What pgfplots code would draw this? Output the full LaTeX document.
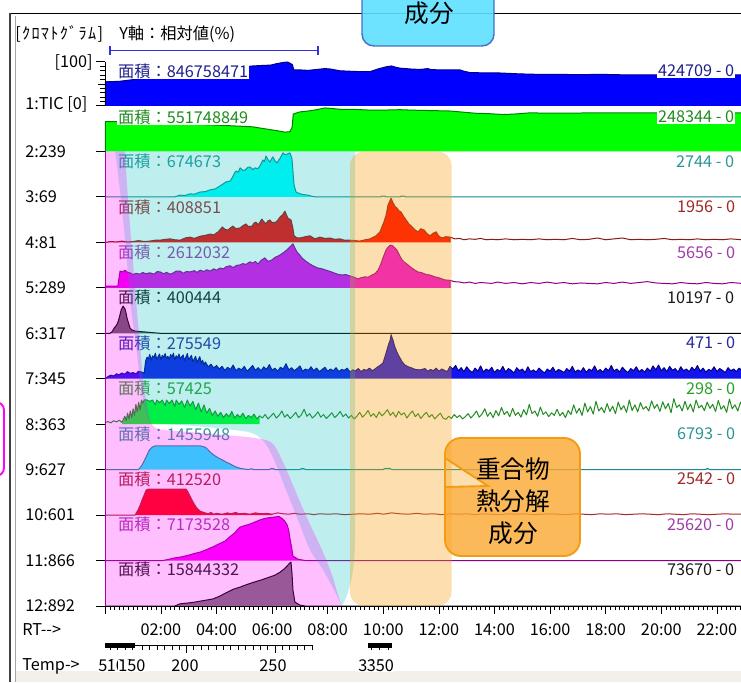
\documentclass[border=0pt]{standalone}
\usepackage{fontspec}
\setmainfont{Noto Sans CJK JP}
\usepackage{pgfplots}
\pgfplotsset{compat=1.18}
\definecolor{cTeal}{HTML}{1E8C8C}
\definecolor{cDRed}{HTML}{8B1A1A}
\definecolor{cBrRed}{HTML}{A52A2A}
\definecolor{cPurp}{HTML}{8B008B}
\definecolor{cNavy}{HTML}{00008B}
\definecolor{cDGreen}{HTML}{008000}
\definecolor{cGreenL}{HTML}{228B22}
\definecolor{cBlue}{HTML}{1414EC}
\definecolor{cLime}{HTML}{00FF20}
\definecolor{cMag5}{HTML}{F000F0}
\definecolor{cCyan}{RGB}{0,255,255}
\definecolor{cMag}{RGB}{255,0,255}
\definecolor{cRed}{RGB}{255,0,0}
\definecolor{cGreen}{RGB}{0,255,0}
\definecolor{cBlue1}{RGB}{0,0,255}
\definecolor{ovC}{RGB}{0,188,188}
\definecolor{ovP}{RGB}{255,0,255}
\definecolor{ovO}{RGB}{249,157,12}
\definecolor{callO}{HTML}{FBA830}
\definecolor{callB}{HTML}{F39C12}
\definecolor{boxB}{HTML}{5FE0FF}
\definecolor{boxE}{HTML}{4472C4}
\definecolor{band}{HTML}{F2F0E9}
\definecolor{lBlue}{HTML}{20208C}
\definecolor{lGreen}{HTML}{1E8C1E}
\definecolor{lTeal}{HTML}{2A9696}
\definecolor{lRed}{HTML}{A02828}
\definecolor{lPurp}{HTML}{A03CAA}
\definecolor{lBlk}{HTML}{1A1A1A}
\definecolor{lNavy}{HTML}{2828A0}
\definecolor{lGrn8}{HTML}{28A028}
\newcommand\lf{\fontsize{12.2pt}{14pt}\selectfont}
\newcommand\cf{\fontsize{18.5pt}{20pt}\selectfont}
\pgfplotsset{tr/.style={no marks,line width=0.75pt,line join=round}}
\tikzset{al/.style={font=\lf,anchor=west,inner sep=0.6pt}}
\begin{document}
\begin{tikzpicture}
\path[use as bounding box] (0,0) rectangle (555.75pt,511.5pt);
\clip (0,0) rectangle (555.75pt,511.5pt);
\fill[white] (0,0) rectangle (555.75pt,511.5pt);
\begin{scope}[x=0.75pt,y=-0.75pt,yshift=511.5pt]
\fill[band] (16,671) rectangle (741,682);
\draw[black,line width=1.1pt] (10,13.5) -- (741,13.5);
\draw[black!75,line width=1.1pt] (10,13) -- (10,682);
\draw[black!35,line width=1.1pt] (15.5,16) -- (15.5,682);
\end{scope}

\begin{axis}[at={(0,0)},anchor=south west,width=555.75pt,height=511.5pt,scale only axis,
 xmin=-3.788,xmax=22.867,ymin=0,ymax=682,hide axis]
% 1 TIC
\addplot[tr,fill=cBlue1,draw=cNavy] table[row sep=\\,x=t,y expr=\thisrow{v}*0.44+576]{
t v\\ 0 0\\ 0 55\\ 0.5 56\\ 1.0 60\\ 2.0 72\\ 3.0 80\\ 4.0 85\\ 5.0 89\\ 5.31 91\\ 5.6 92\\ 5.95 93\\ 6.15 96\\ 6.4 99\\ 6.55 100\\ 6.65 97\\ 6.73 94\\ 6.78 82\\ 7.0 82\\ 7.3 81\\ 7.6 83\\ 7.9 85\\ 8.1 84\\ 8.44 80\\ 8.8 79\\ 9.2 78\\ 9.52 78\\ 9.8 84\\ 10.1 89\\ 10.3 91\\ 10.45 88\\ 10.6 86\\ 11.0 84\\ 11.32 83\\ 11.6 85\\ 11.7 83\\ 12.0 82\\ 12.76 82\\ 12.9 79\\ 13.12 76\\ 13.8 75\\ 14.2 75\\ 14.9 73\\ 15.5 72\\ 16.4 72\\ 17.0 71\\ 17.8 72\\ 18.5 71\\ 19.6 71\\ 20.5 71\\ 21.5 71\\ 22.9 71\\ 22.9 0\\};
% 2
\addplot[tr,fill=cGreen,draw=cDGreen] table[row sep=\\,x=t,y expr=\thisrow{v}*0.44+530.5]{
t v\\ 0 0\\ 0 68\\ 0.4 68\\ 1.0 67\\ 2.0 65\\ 3.0 62\\ 4.0 60\\ 5.0 57\\ 5.31 56\\ 5.6 53\\ 5.9 50\\ 6.2 47\\ 6.46 44\\ 6.64 45\\ 6.72 55\\ 6.76 85\\ 7.0 90\\ 7.3 92\\ 7.6 95\\ 7.9 99\\ 8.1 98\\ 8.44 96\\ 8.8 96\\ 9.2 95\\ 9.52 94\\ 10.0 94\\ 10.6 95\\ 11.0 94\\ 11.7 93\\ 12.4 92\\ 12.76 90\\ 13.3 87\\ 13.8 86\\ 14.3 84\\ 14.7 85\\ 15.3 88\\ 15.8 87\\ 16.5 87\\ 17.8 88\\ 19.6 88\\ 20.5 88\\ 21.5 88\\ 22.9 88\\ 22.9 0\\};
% 3
\addplot[tr,fill=cCyan,draw=cTeal] table[row sep=\\,x=t,y expr=\thisrow{v}*0.44+485.1]{
t v\\ 0 0\\ 2.5 0\\ 2.69 4\\ 2.85 3\\ 3.05 7\\ 3.2 6\\ 3.41 11\\ 3.6 12\\ 3.77 16\\ 3.95 18\\ 4.13 25\\ 4.25 30\\ 4.34 34\\ 4.49 36\\ 4.58 45\\ 4.63 52\\ 4.70 59\\ 4.78 56\\ 4.85 66\\ 4.95 60\\ 5.03 61\\ 5.12 67\\ 5.21 68\\ 5.30 62\\ 5.39 66\\ 5.48 64\\ 5.56 70\\ 5.62 78\\ 5.67 84\\ 5.72 80\\ 5.78 93\\ 5.85 85\\ 5.92 79\\ 5.98 86\\ 6.03 91\\ 6.10 82\\ 6.18 77\\ 6.24 84\\ 6.29 88\\ 6.35 95\\ 6.39 100\\ 6.46 96\\ 6.54 97\\ 6.60 99\\ 6.64 100\\ 6.70 90\\ 6.72 84\\ 6.76 50\\ 6.79 27\\ 6.86 11\\ 7.00 7\\ 7.15 5\\ 7.29 4\\ 7.45 1\\ 7.6 0\\ 9.9 0\\ 9.95 2\\ 10.05 2\\ 10.1 0\\ 10.6 0\\ 10.65 2\\ 10.75 2\\ 10.8 0\\ 22.9 0\\};
% 4 integrated part
\addplot[tr,fill=cRed,draw=cDRed] table[row sep=\\,x=t,y expr=\thisrow{v}*0.44+439.6]{
t v\\ 0 0\\ 0.2 2\\ 0.4 1\\ 0.6 3\\ 0.8 1\\ 1.0 2\\ 1.2 4\\ 1.4 2\\ 1.6 3\\ 1.8 5\\ 1.97 5\\ 2.15 7\\ 2.33 8\\ 2.5 6\\ 2.69 5\\ 2.87 10\\ 3.05 12\\ 3.2 9\\ 3.41 14\\ 3.6 16\\ 3.77 19\\ 3.9 17\\ 4.06 24\\ 4.21 35\\ 4.3 30\\ 4.41 28\\ 4.5 33\\ 4.59 37\\ 4.7 31\\ 4.85 33\\ 4.95 38\\ 5.06 42\\ 5.15 36\\ 5.28 37\\ 5.35 44\\ 5.42 46\\ 5.5 40\\ 5.63 53\\ 5.7 47\\ 5.78 42\\ 5.85 49\\ 5.92 51\\ 6.0 45\\ 6.14 46\\ 6.22 52\\ 6.29 58\\ 6.38 63\\ 6.46 71\\ 6.52 62\\ 6.57 55\\ 6.68 51\\ 6.74 35\\ 6.79 15\\ 6.9 10\\ 7.0 10\\ 7.2 13\\ 7.36 15\\ 7.54 8\\ 7.72 12\\ 7.9 9\\ 8.08 10\\ 8.25 7\\ 8.44 8\\ 8.6 5\\ 8.8 5\\ 9.0 4\\ 9.16 3\\ 9.35 6\\ 9.52 8\\ 9.74 15\\ 9.88 24\\ 10.02 46\\ 10.1 62\\ 10.17 85\\ 10.24 95\\ 10.28 100\\ 10.35 90\\ 10.42 82\\ 10.49 78\\ 10.56 72\\ 10.64 69\\ 10.72 60\\ 10.82 51\\ 10.92 42\\ 11.04 35\\ 11.15 28\\ 11.25 24\\ 11.35 31\\ 11.47 28\\ 11.57 20\\ 11.68 15\\ 11.8 21\\ 11.90 24\\ 12.0 14\\ 12.11 10\\ 12.25 13\\ 12.40 12\\ 12.40 0\\};
% 4 rest
\addplot[tr,draw=cDRed] table[row sep=\\,x=t,y expr=\thisrow{v}*0.44+439.6]{
t v\\ 12.40 12\\ 12.58 8\\ 12.75 9\\ 12.9 6\\ 13.1 8\\ 13.3 7\\ 13.5 9\\ 13.7 6\\ 13.9 7\\ 14.1 6\\ 14.4 8\\ 14.7 6\\ 15.0 7\\ 15.3 6\\ 15.6 8\\ 15.9 6\\ 16.2 7\\ 16.5 6\\ 16.8 9\\ 17.1 6\\ 17.4 7\\ 17.7 10\\ 18.0 6\\ 18.3 8\\ 18.6 10\\ 18.9 6\\ 19.2 7\\ 19.5 6\\ 19.8 7\\ 20.1 9\\ 20.4 6\\ 20.7 7\\ 21.0 6\\ 21.3 8\\ 21.6 6\\ 21.9 7\\ 22.2 6\\ 22.5 8\\ 22.9 6\\};
% 5 integrated part
\addplot[tr,fill=cMag5,draw=cPurp] table[row sep=\\,x=t,y expr=\thisrow{v}*0.44+394.2]{
t v\\ 0 0\\ 0 4\\ 0.45 4\\ 0.53 38\\ 0.62 36\\ 0.71 40\\ 0.8 35\\ 0.89 34\\ 1.0 30\\ 1.1 33\\ 1.25 31\\ 1.35 35\\ 1.45 32\\ 1.61 34\\ 1.75 31\\ 1.87 37\\ 1.97 36\\ 2.1 32\\ 2.2 35\\ 2.33 31\\ 2.45 34\\ 2.55 38\\ 2.69 38\\ 2.8 33\\ 2.92 37\\ 3.05 36\\ 3.2 39\\ 3.3 35\\ 3.41 40\\ 3.55 37\\ 3.65 41\\ 3.77 38\\ 3.9 43\\ 4.0 40\\ 4.13 45\\ 4.25 43\\ 4.35 48\\ 4.49 50\\ 4.6 46\\ 4.72 51\\ 4.85 52\\ 4.95 55\\ 5.05 53\\ 5.21 59\\ 5.3 56\\ 5.4 60\\ 5.49 54\\ 5.6 62\\ 5.74 68\\ 5.85 60\\ 5.99 63\\ 6.1 69\\ 6.21 72\\ 6.32 76\\ 6.43 81\\ 6.55 87\\ 6.64 93\\ 6.72 98\\ 6.75 100\\ 6.82 90\\ 6.90 81\\ 7.0 74\\ 7.07 68\\ 7.2 61\\ 7.36 54\\ 7.5 49\\ 7.65 45\\ 7.8 43\\ 7.94 40\\ 8.1 37\\ 8.22 34\\ 8.35 31\\ 8.51 29\\ 8.65 30\\ 8.80 27\\ 8.95 24\\ 9.09 20\\ 9.2 23\\ 9.34 25\\ 9.45 24\\ 9.59 29\\ 9.7 32\\ 9.81 40\\ 9.9 52\\ 9.96 63\\ 10.03 75\\ 10.10 86\\ 10.18 93\\ 10.25 97\\ 10.30 96\\ 10.35 95\\ 10.42 90\\ 10.49 86\\ 10.58 74\\ 10.68 63\\ 10.78 57\\ 10.89 52\\ 11.0 46\\ 11.14 40\\ 11.25 36\\ 11.40 34\\ 11.5 31\\ 11.68 29\\ 11.85 25\\ 12.04 22\\ 12.2 18\\ 12.40 17\\ 12.40 0\\};
% 5 rest
\addplot[tr,draw=cPurp] table[row sep=\\,x=t,y expr=\thisrow{v}*0.44+394.2]{
t v\\ 12.40 17\\ 12.55 14\\ 12.76 13\\ 12.9 11\\ 13.1 13\\ 13.3 10\\ 13.5 12\\ 13.7 11\\ 13.9 10\\ 14.1 13\\ 14.4 10\\ 14.7 12\\ 15.0 9\\ 15.3 12\\ 15.6 10\\ 15.9 13\\ 16.2 10\\ 16.5 12\\ 16.8 9\\ 17.1 11\\ 17.4 10\\ 17.7 9\\ 18.0 12\\ 18.3 10\\ 18.6 13\\ 18.9 10\\ 19.2 12\\ 19.5 14\\ 19.8 11\\ 20.1 10\\ 20.4 9\\ 20.7 12\\ 21.0 10\\ 21.3 9\\ 21.6 12\\ 21.9 10\\ 22.2 9\\ 22.5 12\\ 22.9 10\\};
% 6
\addplot[tr,fill=black!62,draw=black] table[row sep=\\,x=t,y expr=\thisrow{v}*0.44+348.7]{
t v\\ 0 0\\ 0.17 0\\ 0.25 4\\ 0.32 12\\ 0.40 18\\ 0.46 26\\ 0.52 40\\ 0.57 53\\ 0.64 62\\ 0.71 55\\ 0.75 45\\ 0.78 35\\ 0.84 22\\ 0.89 12\\ 0.95 8\\ 1.07 5\\ 1.25 4\\ 1.43 3\\ 1.6 2\\ 1.97 0\\ 22.9 0\\};
% 7
\addplot[tr,fill=cBlue,draw=cNavy] table[row sep=\\,x=t,y expr=\thisrow{v}*0.44+303.3]{
t v\\ 0 0\\ 0.1 5\\ 0.2 8\\ 0.3 6\\ 0.4 11\\ 0.5 9\\ 0.6 13\\ 0.7 10\\ 0.8 16\\ 0.9 12\\ 1.0 14\\ 1.1 11\\ 1.2 17\\ 1.3 15\\ 1.4 13\\ 1.45 40\\ 1.5 49\\ 1.55 45\\ 1.6 55\\ 1.65 42\\ 1.7 52\\ 1.75 47\\ 1.8 58\\ 1.85 44\\ 1.9 50\\ 1.95 56\\ 2.0 43\\ 2.05 53\\ 2.1 48\\ 2.15 57\\ 2.2 46\\ 2.25 51\\ 2.3 44\\ 2.35 55\\ 2.4 49\\ 2.45 58\\ 2.5 42\\ 2.55 52\\ 2.6 47\\ 2.65 56\\ 2.7 45\\ 2.75 50\\ 2.8 54\\ 2.85 41\\ 2.9 49\\ 2.95 57\\ 3.0 43\\ 3.05 48\\ 3.1 53\\ 3.15 38\\ 3.2 45\\ 3.25 51\\ 3.3 36\\ 3.35 44\\ 3.4 50\\ 3.45 35\\ 3.5 42\\ 3.55 31\\ 3.6 38\\ 3.7 27\\ 3.8 33\\ 3.9 24\\ 4.0 30\\ 4.1 22\\ 4.2 28\\ 4.3 19\\ 4.4 26\\ 4.5 21\\ 4.6 31\\ 4.7 18\\ 4.8 24\\ 4.9 20\\ 5.0 28\\ 5.1 17\\ 5.2 23\\ 5.3 30\\ 5.4 19\\ 5.5 25\\ 5.6 18\\ 5.7 27\\ 5.8 21\\ 5.9 32\\ 6.0 19\\ 6.1 24\\ 6.2 17\\ 6.3 26\\ 6.4 22\\ 6.5 34\\ 6.6 20\\ 6.7 25\\ 6.8 18\\ 6.9 23\\ 7.0 29\\ 7.1 17\\ 7.2 22\\ 7.3 19\\ 7.4 27\\ 7.5 18\\ 7.6 24\\ 7.7 16\\ 7.8 21\\ 7.9 26\\ 8.0 17\\ 8.1 22\\ 8.2 18\\ 8.3 25\\ 8.4 16\\ 8.5 21\\ 8.6 19\\ 8.7 24\\ 8.8 15\\ 8.9 20\\ 9.0 18\\ 9.1 23\\ 9.2 16\\ 9.3 21\\ 9.4 19\\ 9.5 24\\ 9.6 18\\ 9.7 22\\ 9.8 27\\ 9.9 31\\ 9.99 36\\ 10.06 50\\ 10.13 65\\ 10.2 80\\ 10.25 88\\ 10.28 100\\ 10.32 92\\ 10.35 88\\ 10.4 75\\ 10.46 65\\ 10.53 55\\ 10.6 47\\ 10.68 38\\ 10.78 31\\ 10.9 27\\ 11.04 24\\ 11.15 21\\ 11.32 20\\ 11.5 23\\ 11.6 17\\ 11.7 21\\ 11.8 18\\ 11.9 24\\ 12.0 17\\ 12.1 22\\ 12.2 19\\ 12.3 16\\ 12.4 28\\ 12.5 22\\ 12.6 30\\ 12.7 18\\ 12.8 25\\ 12.9 16\\ 13.0 27\\ 13.1 19\\ 13.2 14\\ 13.3 24\\ 13.4 17\\ 13.5 29\\ 13.6 15\\ 13.7 22\\ 13.8 18\\ 13.9 26\\ 14.0 14\\ 14.1 21\\ 14.2 17\\ 14.3 28\\ 14.4 15\\ 14.5 23\\ 14.6 19\\ 14.7 13\\ 14.8 25\\ 14.9 18\\ 15.0 22\\ 15.1 14\\ 15.2 27\\ 15.3 16\\ 15.4 20\\ 15.5 15\\ 15.6 24\\ 15.7 18\\ 15.8 13\\ 15.9 22\\ 16.0 17\\ 16.1 26\\ 16.2 15\\ 16.3 21\\ 16.4 18\\ 16.5 14\\ 16.6 23\\ 16.7 17\\ 16.8 28\\ 16.9 15\\ 17.0 20\\ 17.1 16\\ 17.2 25\\ 17.3 14\\ 17.4 22\\ 17.5 18\\ 17.6 29\\ 17.7 16\\ 17.8 21\\ 17.9 15\\ 18.0 24\\ 18.1 18\\ 18.2 30\\ 18.3 17\\ 18.4 22\\ 18.5 15\\ 18.6 26\\ 18.7 19\\ 18.8 14\\ 18.9 23\\ 19.0 18\\ 19.1 27\\ 19.2 16\\ 19.3 21\\ 19.4 15\\ 19.5 24\\ 19.6 17\\ 19.7 29\\ 19.8 20\\ 19.9 31\\ 20.0 18\\ 20.1 25\\ 20.2 16\\ 20.3 28\\ 20.4 19\\ 20.5 23\\ 20.6 15\\ 20.7 27\\ 20.8 18\\ 20.9 22\\ 21.0 16\\ 21.1 26\\ 21.2 19\\ 21.3 30\\ 21.4 17\\ 21.5 24\\ 21.6 15\\ 21.7 21\\ 21.8 18\\ 21.9 27\\ 22.0 16\\ 22.1 23\\ 22.2 19\\ 22.3 14\\ 22.4 25\\ 22.5 18\\ 22.6 22\\ 22.7 16\\ 22.8 24\\ 22.9 19\\ 22.9 0\\};
% 8 fill part
\addplot[tr,fill=cLime,draw=none] table[row sep=\\,x=t,y expr=\thisrow{v}*0.44+257.8]{
t v\\ 0.6 0\\ 0.7 18\\ 0.75 8\\ 0.8 25\\ 0.85 12\\ 0.9 30\\ 0.95 15\\ 1.0 35\\ 1.05 20\\ 1.1 45\\ 1.15 28\\ 1.2 50\\ 1.25 32\\ 1.3 55\\ 1.35 48\\ 1.4 55\\ 1.5 55\\ 1.6 52\\ 1.7 55\\ 1.8 44\\ 1.85 55\\ 1.95 49\\ 2.05 55\\ 2.15 42\\ 2.2 55\\ 2.3 47\\ 2.4 55\\ 2.5 40\\ 2.55 55\\ 2.65 45\\ 2.75 53\\ 2.85 38\\ 2.95 55\\ 3.05 41\\ 3.15 52\\ 3.25 33\\ 3.35 48\\ 3.45 28\\ 3.55 44\\ 3.65 25\\ 3.75 36\\ 3.85 20\\ 3.95 30\\ 4.05 18\\ 4.15 27\\ 4.25 15\\ 4.35 24\\ 4.45 17\\ 4.55 29\\ 4.65 14\\ 4.75 22\\ 4.85 16\\ 4.95 25\\ 5.05 13\\ 5.15 20\\ 5.25 15\\ 5.35 23\\ 5.45 12\\ 5.55 19\\ 5.55 0\\};
% 8 line
\addplot[tr,draw=cGreenL] table[row sep=\\,x=t,y expr=\thisrow{v}*0.44+257.8]{
t v\\ 0 4\\ 0.1 6\\ 0.2 3\\ 0.3 8\\ 0.4 5\\ 0.5 9\\ 0.6 4\\ 0.7 18\\ 0.75 8\\ 0.8 25\\ 0.85 12\\ 0.9 30\\ 0.95 15\\ 1.0 35\\ 1.05 20\\ 1.1 45\\ 1.15 28\\ 1.2 50\\ 1.25 32\\ 1.3 55\\ 1.35 48\\ 1.4 55\\ 1.5 55\\ 1.6 52\\ 1.7 55\\ 1.8 44\\ 1.85 55\\ 1.95 49\\ 2.05 55\\ 2.15 42\\ 2.2 55\\ 2.3 47\\ 2.4 55\\ 2.5 40\\ 2.55 55\\ 2.65 45\\ 2.75 53\\ 2.85 38\\ 2.95 55\\ 3.05 41\\ 3.15 52\\ 3.25 33\\ 3.35 48\\ 3.45 28\\ 3.55 44\\ 3.65 25\\ 3.75 36\\ 3.85 20\\ 3.95 30\\ 4.05 18\\ 4.15 27\\ 4.25 15\\ 4.35 24\\ 4.45 17\\ 4.55 29\\ 4.65 14\\ 4.75 22\\ 4.85 16\\ 4.95 25\\ 5.05 13\\ 5.15 20\\ 5.25 15\\ 5.35 23\\ 5.45 12\\ 5.55 19\\ 5.65 14\\ 5.75 22\\ 5.85 12\\ 5.95 18\\ 6.05 25\\ 6.15 14\\ 6.25 20\\ 6.35 30\\ 6.45 16\\ 6.55 22\\ 6.65 13\\ 6.75 19\\ 6.85 27\\ 6.95 15\\ 7.05 21\\ 7.15 34\\ 7.25 18\\ 7.35 24\\ 7.45 14\\ 7.55 20\\ 7.65 28\\ 7.75 16\\ 7.85 22\\ 7.95 13\\ 8.05 19\\ 8.15 26\\ 8.25 15\\ 8.35 21\\ 8.45 29\\ 8.55 17\\ 8.65 23\\ 8.75 14\\ 8.85 20\\ 8.95 12\\ 9.05 18\\ 9.15 27\\ 9.25 16\\ 9.35 22\\ 9.45 31\\ 9.55 18\\ 9.65 24\\ 9.75 15\\ 9.85 28\\ 9.95 19\\ 10.05 25\\ 10.15 33\\ 10.25 20\\ 10.35 27\\ 10.45 16\\ 10.55 29\\ 10.65 21\\ 10.75 26\\ 10.85 14\\ 10.95 23\\ 11.05 30\\ 11.15 17\\ 11.25 24\\ 11.35 13\\ 11.45 21\\ 11.55 27\\ 11.65 16\\ 11.75 22\\ 11.85 12\\ 11.95 19\\ 12.05 25\\ 12.15 14\\ 12.25 11\\ 12.35 18\\ 12.45 13\\ 12.55 22\\ 12.65 15\\ 12.75 20\\ 12.85 12\\ 12.95 17\\ 13.05 24\\ 13.15 14\\ 13.25 21\\ 13.35 30\\ 13.45 16\\ 13.55 23\\ 13.65 35\\ 13.75 18\\ 13.85 27\\ 13.95 15\\ 14.05 31\\ 14.15 19\\ 14.25 38\\ 14.35 22\\ 14.45 29\\ 14.55 17\\ 14.65 36\\ 14.75 20\\ 14.85 27\\ 14.95 16\\ 15.05 33\\ 15.15 21\\ 15.25 45\\ 15.35 24\\ 15.45 30\\ 15.55 18\\ 15.65 39\\ 15.75 22\\ 15.85 28\\ 15.95 17\\ 16.05 26\\ 16.15 20\\ 16.25 34\\ 16.35 19\\ 16.45 27\\ 16.55 15\\ 16.65 31\\ 16.75 22\\ 16.85 44\\ 16.95 25\\ 17.05 36\\ 17.15 20\\ 17.25 48\\ 17.35 28\\ 17.45 40\\ 17.55 23\\ 17.65 52\\ 17.75 30\\ 17.85 38\\ 17.95 26\\ 18.05 47\\ 18.15 29\\ 18.25 41\\ 18.35 24\\ 18.45 50\\ 18.55 33\\ 18.65 42\\ 18.75 27\\ 18.85 55\\ 18.95 31\\ 19.05 44\\ 19.15 28\\ 19.25 49\\ 19.35 34\\ 19.45 40\\ 19.55 30\\ 19.65 53\\ 19.75 36\\ 19.85 45\\ 19.95 29\\ 20.05 51\\ 20.15 35\\ 20.25 47\\ 20.35 26\\ 20.45 58\\ 20.55 38\\ 20.65 44\\ 20.75 30\\ 20.85 52\\ 20.95 33\\ 21.05 46\\ 21.15 28\\ 21.25 55\\ 21.35 37\\ 21.45 43\\ 21.55 31\\ 21.65 50\\ 21.75 36\\ 21.85 45\\ 21.95 29\\ 22.05 54\\ 22.15 34\\ 22.25 42\\ 22.35 27\\ 22.45 57\\ 22.55 35\\ 22.65 44\\ 22.75 30\\ 22.85 50\\ 22.95 36\\};
% 9
\addplot[tr,fill=cCyan,draw=cTeal] table[row sep=\\,x=t,y expr=\thisrow{v}*0.44+212.4]{
t v\\ 0 0\\ 1.18 0\\ 1.25 4\\ 1.32 10\\ 1.40 20\\ 1.50 33\\ 1.58 44\\ 1.68 51\\ 1.8 54\\ 1.97 54\\ 2.5 54\\ 3.1 54\\ 3.41 54\\ 3.59 51\\ 3.68 46\\ 3.77 40\\ 3.86 35\\ 3.95 31\\ 4.08 26\\ 4.21 22\\ 4.35 17\\ 4.49 13\\ 4.6 9\\ 4.70 6\\ 4.85 3\\ 5.03 1\\ 5.15 0\\ 5.25 2\\ 5.35 0\\ 5.9 0\\ 5.95 2\\ 6.05 2\\ 6.1 0\\ 7.0 0\\ 7.05 2\\ 7.15 2\\ 7.2 0\\ 10.0 0\\ 10.05 3\\ 10.25 3\\ 10.3 0\\ 21.6 0\\ 21.65 3\\ 21.75 0\\ 22.9 0\\};
% 10 integrated part
\addplot[tr,fill=cRed,draw=cBrRed] table[row sep=\\,x=t,y expr=\thisrow{v}*0.44+166.9]{
t v\\ 0 0\\ 1.07 0\\ 1.18 12\\ 1.25 22\\ 1.32 34\\ 1.40 46\\ 1.47 57\\ 1.54 59\\ 1.8 59\\ 2.2 59\\ 2.6 59\\ 2.91 59\\ 2.98 52\\ 3.05 43\\ 3.12 34\\ 3.2 25\\ 3.27 18\\ 3.34 13\\ 3.41 9\\ 3.59 5\\ 3.7 3\\ 3.8 6\\ 3.9 2\\ 4.0 4\\ 4.2 2\\ 4.4 5\\ 4.5 3\\ 4.7 6\\ 4.8 3\\ 5.0 4\\ 5.2 2\\ 5.4 5\\ 5.6 3\\ 5.8 4\\ 6.0 2\\ 6.0 0\\};
% 10 rest
\addplot[tr,draw=cBrRed] table[row sep=\\,x=t,y expr=\thisrow{v}*0.44+166.9]{
t v\\ 6.0 2\\ 6.2 5\\ 6.4 3\\ 6.6 2\\ 6.8 4\\ 7.0 2\\ 7.3 3\\ 7.5 1\\ 7.7 3\\ 8.0 2\\ 8.3 3\\ 8.6 1\\ 8.9 2\\ 9.2 3\\ 9.5 2\\ 9.8 4\\ 10.0 2\\ 10.3 5\\ 10.6 3\\ 10.9 2\\ 11.2 4\\ 11.5 2\\ 11.8 3\\ 12.1 1\\ 12.4 3\\ 12.7 2\\ 13.0 3\\ 13.3 1\\ 13.6 3\\ 13.9 2\\ 14.2 1\\ 14.5 3\\ 14.8 2\\ 15.1 3\\ 15.4 1\\ 15.7 2\\ 16.0 3\\ 16.3 2\\ 16.6 1\\ 16.9 3\\ 17.2 2\\ 17.5 1\\ 17.8 3\\ 18.1 2\\ 18.4 3\\ 18.7 1\\ 19.0 2\\ 19.3 3\\ 19.6 2\\ 19.9 1\\ 20.2 3\\ 20.5 2\\ 20.8 1\\ 21.1 3\\ 21.4 2\\ 21.7 1\\ 22.0 2\\ 22.3 3\\ 22.6 2\\ 22.9 2\\};
% 11
\addplot[tr,fill=cMag,draw=cPurp] table[row sep=\\,x=t,y expr=\thisrow{v}*0.44+121.5]{
t v\\ 0 0\\ 2.08 0\\ 2.3 3\\ 2.51 6\\ 2.8 9\\ 3.05 13\\ 3.2 16\\ 3.41 19\\ 3.65 25\\ 3.87 31\\ 4.1 38\\ 4.30 44\\ 4.5 55\\ 4.66 63\\ 4.75 70\\ 4.85 76\\ 5.0 79\\ 5.21 83\\ 5.4 88\\ 5.56 92\\ 5.7 95\\ 5.85 97\\ 6.0 98\\ 6.10 99\\ 6.25 100\\ 6.39 94\\ 6.47 88\\ 6.54 81\\ 6.60 68\\ 6.64 51\\ 6.70 30\\ 6.75 10\\ 6.93 3\\ 7.18 0\\ 22.9 0\\};
% 12
\addplot[tr,fill=black!53,draw=black] table[row sep=\\,x=t,y expr=\thisrow{v}*0.44+76]{
t v\\ 0 0\\ 2.5 0\\ 2.69 5\\ 3.0 7\\ 3.23 9\\ 3.5 12\\ 3.87 16\\ 4.1 22\\ 4.41 32\\ 4.6 38\\ 4.85 43\\ 5.1 49\\ 5.39 55\\ 5.6 59\\ 5.92 66\\ 6.1 70\\ 6.29 77\\ 6.45 85\\ 6.54 91\\ 6.64 98\\ 6.68 100\\ 6.72 70\\ 6.75 36\\ 6.82 9\\ 7.0 2\\ 7.18 0\\ 22.9 0\\};
\end{axis}

% RT axis
\begin{axis}[at={(78.975pt,57pt)},anchor=south west,width=476.775pt,height=20pt,scale only axis,
 xmin=0,xmax=22.867,ymin=0,ymax=1,axis y line=none,axis x line*=bottom,
 xtick={0,2,...,22},xticklabels={,02:00,04:00,06:00,08:00,10:00,12:00,14:00,16:00,18:00,20:00,22:00},
 minor xtick={0,0.16667,...,22.9},tick align=outside,major tick length=6pt,minor tick length=3pt,
 every tick/.style={black,line width=0.6pt},x axis line style={black,line width=0.75pt},
 xticklabel style={font=\lf,text=black,yshift=-3.5pt}]
\addplot[draw=none] coordinates {(0,0.5)};
\end{axis}

\begin{scope}[x=0.75pt,y=-0.75pt,yshift=511.5pt]
% left scale
\draw[black,line width=0.75pt] (105,62) -- (105,106);
\foreach \py in {62,106,151.5,196.9,242.4,287.8,333.3,378.7,424.2,469.6,515.1,560.5,606}
  \draw[black,line width=0.75pt] (96,\py) -- (105,\py);
\foreach \i in {1,...,9} \draw[black,line width=0.6pt] (100,{62+4.4*\i}) -- (105,{62+4.4*\i});
\draw[black,line width=0.6pt] (98,84) -- (105,84);
\draw[cPurp,line width=0.75pt] (105.3,151.5) -- (105.3,606);
\node[font=\lf,anchor=east,inner sep=0pt] at (93,62) {[100]};
\node[font=\lf,anchor=west,inner sep=0pt] at (25,104) {1:TIC [0]};
\foreach \py/\t in {151.5/2:239,196.9/3:69,242.4/4:81,287.8/5:289,333.3/6:317,378.7/7:345,424.2/8:363,469.6/9:627,515.1/10:601,560.5/11:866,606/12:892}
  \node[font=\lf,anchor=west,inner sep=0pt] at (25,\py) {\t};
% header
\node[font=\lf,anchor=west,inner sep=0pt] at (15,34) {\addfontfeature{LetterSpace=8}[ｸﾛﾏﾄｸﾞﾗﾑ]};
\node[font=\lf,anchor=west,inner sep=0pt] at (119,34) {Y軸：相対値(\%)};
\draw[color={rgb,255:red,50;green,50;blue,220},line width=0.9pt] (110,50.5) -- (318,50.5) (110,46) -- (110,55) (318,46) -- (318,55);
% area labels
\node[al,text=lBlue,fill=white] at (117,71) {面積：846758471};
\node[al,text=lGreen,fill=white] at (117,117) {面積：551748849};
\node[al,text=lTeal] at (117,161.5) {面積：674673};
\node[al,text=lRed] at (117,207) {面積：408851};
\node[al,text=lPurp] at (117,252.5) {面積：2612032};
\node[al,text=lBlk] at (117,297.5) {面積：400444};
\node[al,text=lNavy] at (117,343) {面積：275549};
\node[al,text=lGrn8] at (117,388.5) {面積：57425};
\node[al,text=lTeal] at (117,434) {面積：1455948};
\node[al,text=lRed] at (117,479) {面積：412520};
\node[al,text=lPurp] at (117,524.5) {面積：7173528};
\node[al,text=lBlk] at (117,569.5) {面積：15844332};
% right labels
\node[al,text=lBlue,fill=white] at (657,71) {424709 - 0};
\node[al,text=lGreen,fill=white] at (657,117) {248344 - 0};
\node[al,text=lTeal] at (675,161.5) {2744 - 0};
\node[al,text=lRed] at (676,207) {1956 - 0};
\node[al,text=lPurp] at (676,252.5) {5656 - 0};
\node[al,text=lBlk] at (666,297.5) {10197 - 0};
\node[al,text=lNavy] at (685,343) {471 - 0};
\node[al,text=lGrn8] at (685,388.5) {298 - 0};
\node[al,text=lTeal] at (676,434) {6793 - 0};
\node[al,text=lRed] at (676,479) {2542 - 0};
\node[al,text=lPurp] at (666,524.5) {25620 - 0};
\node[al,text=lBlk] at (666,569.5) {73670 - 0};
% RT / Temp
\node[font=\lf,anchor=west,inner sep=0pt] at (22,630) {RT-{}-{}>};
\node[font=\lf,anchor=west,inner sep=0pt] at (22,666) {Temp-{}>};
\fill[black] (105,642.5) rectangle (135,647.5);
\fill[black] (368,642.5) rectangle (392,647.5);
\draw[black,line width=0.75pt] (105,645) -- (313,645);
\foreach \x in {110,117.5,125,132.5,142.4,149.8,157.2,164.6,172,179.4,193.8,201.2,208.6,216,223.4,230.8,238.2,245.6,253,260.4,267.8,282.4,289.8,297.2,304.6,312}
  \draw[black,line width=0.6pt] (\x,645) -- (\x,650);
\draw[black,line width=0.6pt] (186,645) -- (186,653) (275,645) -- (275,653);
\foreach \x in {371,379.5,388} \draw[black,line width=0.6pt] (\x,645) -- (\x,650);
\node[font=\lf,anchor=west,inner sep=0pt,fill=white] at (98,666) {50};
\node[font=\lf,anchor=west,inner sep=0pt,fill=white] at (106.5,666) {100};
\node[font=\lf,anchor=west,inner sep=0pt,fill=white] at (118,666) {150};
\node[font=\lf,inner sep=0pt] at (185,666) {200};
\node[font=\lf,inner sep=0pt] at (273,666) {250};
\node[font=\lf,anchor=west,inner sep=0pt,fill=white] at (358,666) {300};
\node[font=\lf,anchor=west,inner sep=0pt,fill=white] at (366.5,666) {350};
% overlays
\fill[ovC,opacity=0.25] (115,151.5) -- (355,151.5) -- (355,540) .. controls (355,575) and (348,595) .. (342,606)
  -- plot[smooth] coordinates {(342,606) (334,590) (322,568) (310,550) (298,520) (286,490) (275,462) (265,443) (252,433) (225,429) (195,426) (165,424) (150,421) (144,405) (140,380) (136,345) (130,300) (126,250) (121,200) (117,165) (115,151.5)} -- cycle;
\fill[ovP,opacity=0.25] (105,151.5) -- (125,151.5)
  -- plot[smooth] coordinates {(125,151.5) (128,200) (132,250) (136,300) (140,345) (143,380) (147,405) (150,420) (158,429) (190,432) (225,435) (255,438) (272,443) (283,462) (295,490) (308,520) (322,550) (332,575) (338,595) (342,606)} -- (105,606) -- cycle;
\fill[ovO,opacity=0.33,rounded corners=10.5pt] (350,151.5) rectangle (451.5,606);
% callout
\fill[callO,opacity=0.8,even odd rule,rounded corners=12pt] (445,438) rectangle (580,556) [sharp corners] (445,458) -- (488,486) -- (445,487) -- cycle;
\fill[ovO,opacity=0.33] (445,458) -- (488,486) -- (445,487) -- cycle;
\draw[callB,line width=1.4pt,rounded corners=12pt] (445,438) rectangle (580,556);
\draw[callB,line width=1.4pt] (445,458) -- (488,486) -- (445,487);
\node[font=\cf,inner sep=0pt] at (513,469) {重合物};
\node[font=\cf,inner sep=0pt] at (513,501) {熱分解};
\node[font=\cf,inner sep=0pt] at (513,533) {成分};
% top box
\draw[fill=boxB,fill opacity=0.9,draw=boxE,line width=1.1pt,rounded corners=9pt] (362,-20) rectangle (494,46);
\node[font=\cf,inner sep=0pt] at (429,13) {成分};
% left box
\draw[draw=cMag,line width=1.4pt,fill=white,rounded corners=6pt] (-40,402) rectangle (4,476);
\end{scope}
\end{tikzpicture}
\end{document}
